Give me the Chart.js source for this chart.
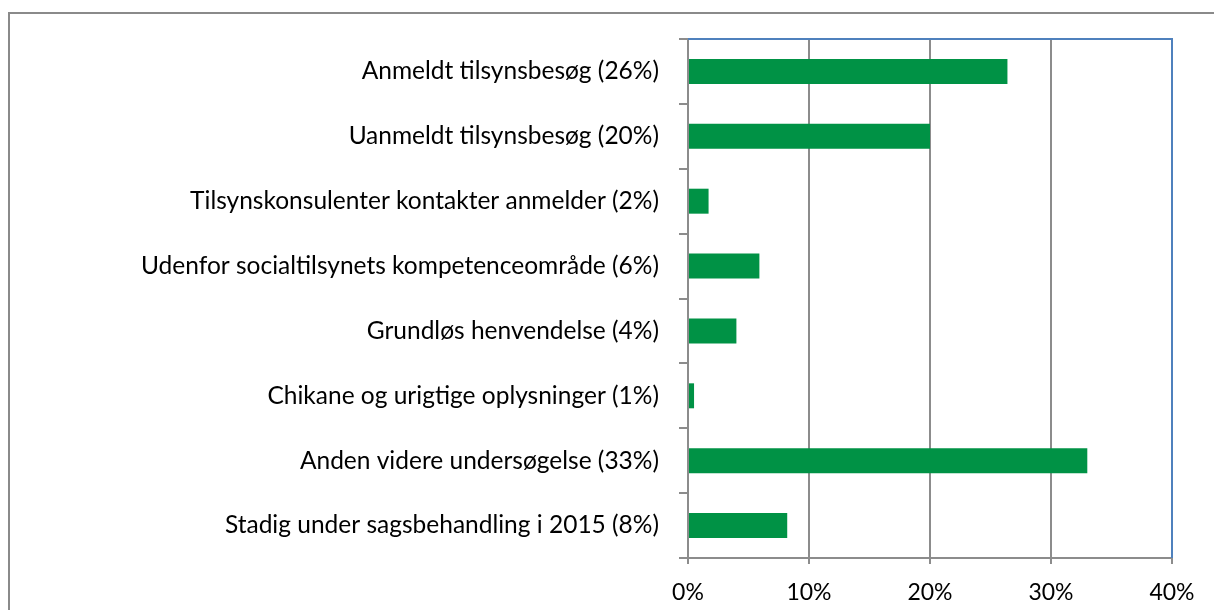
<!DOCTYPE html>
<html>
<head>
<meta charset="utf-8">
<script src="https://cdn.jsdelivr.net/npm/chart.js@4"></script>
<style>
  body { margin: 0; background: #fff; overflow: hidden; }
  #frame { position: absolute; left: 8px; top: 12px; width: 1300px; height: 700px; border: 2px solid #8a8a8a; }
  #wrap { position: absolute; left: 0; top: 0; width: 1214px; height: 610px; }
</style>
</head>
<body>
<div id="frame"></div>
<div id="wrap"><canvas id="chart"></canvas></div>
<script>
// Categories and shares (percent)
const categories = [
  "Anmeldt tilsynsbesøg (26%)",
  "Uanmeldt tilsynsbesøg (20%)",
  "Tilsynskonsulenter kontakter anmelder (2%)",
  "Udenfor socialtilsynets kompetenceområde (6%)",
  "Grundløs henvendelse (4%)",
  "Chikane og urigtige oplysninger (1%)",
  "Anden videre undersøgelse (33%)",
  "Stadig under sagsbehandling i 2015 (8%)"
];
const shares = [26.4, 20.0, 1.7, 5.9, 4.0, 0.5, 33.0, 8.2];
const xTicks = [0, 10, 20, 30, 40];

const grey = "#8c8c8c";
const blue = "#4f81bd";

// Blue top and right frame of the plot area
const plotFrame = {
  id: "plotFrame",
  afterDraw(chart) {
    const { ctx, chartArea: a } = chart;
    ctx.save();
    ctx.strokeStyle = blue;
    ctx.lineWidth = 2;
    ctx.beginPath();
    ctx.moveTo(a.left, a.top);
    ctx.lineTo(a.right, a.top);
    ctx.lineTo(a.right, a.bottom);
    ctx.stroke();
    ctx.restore();
  }
};

new Chart(document.getElementById("chart"), {
  type: "bar",
  data: {
    labels: categories,
    datasets: [{
      data: shares,
      backgroundColor: "#009245",
      barPercentage: 0.385,
      categoryPercentage: 1
    }]
  },
  options: {
    indexAxis: "y",
    responsive: true,
    maintainAspectRatio: false,
    animation: false,
    layout: { padding: { top: 39, right: 42, left: 0, bottom: 0 } },
    plugins: { legend: { display: false }, tooltip: { enabled: false } },
    scales: {
      x: {
        min: 0,
        max: 40,
        afterBuildTicks: (s) => { s.ticks = xTicks.map((v) => ({ value: v })); },
        afterFit: (s) => { s.height = 52; },
        grid: { color: grey, lineWidth: 2, tickLength: 6 },
        border: { color: grey, width: 2 },
        ticks: {
          color: "#000",
          padding: 15,
          font: { family: "Lato", size: 23 },
          callback: (v) => v + "%"
        }
      },
      y: {
        afterFit: (s) => { s.width = 688; },
        grid: { offset: true, drawOnChartArea: false, color: grey, lineWidth: 2, tickLength: 9 },
        border: { color: grey, width: 2 },
        ticks: {
          color: "#000",
          padding: 20,
          font: { family: "Lato", size: 24.5 }
        }
      }
    }
  },
  plugins: [plotFrame]
});
</script>
</body>
</html>
